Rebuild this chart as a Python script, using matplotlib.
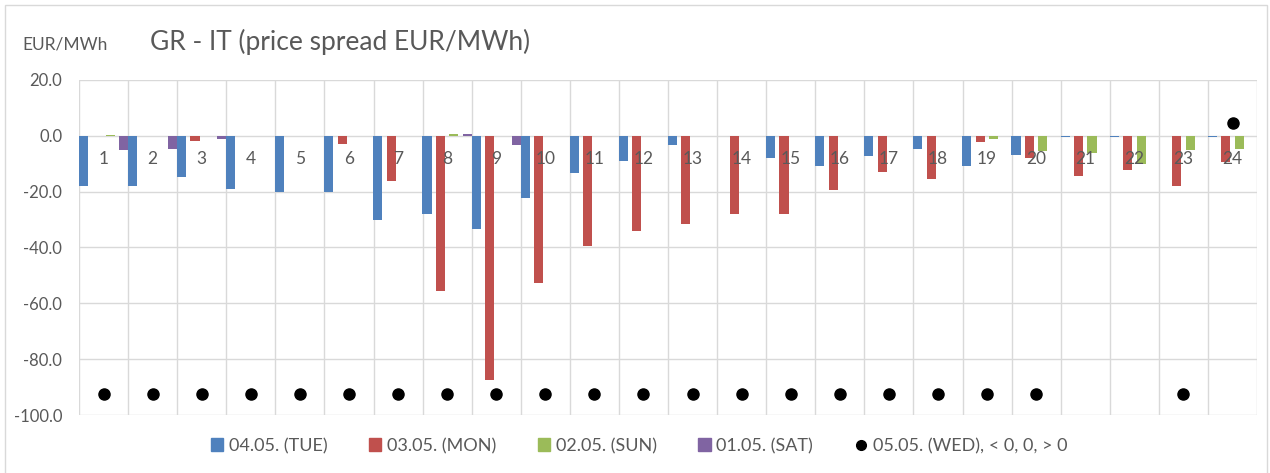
import numpy as np
import matplotlib
matplotlib.use('Agg')
import matplotlib.pyplot as plt
from matplotlib.patches import Rectangle
from matplotlib.lines import Line2D

plt.rcParams['font.family'] = ['Lato', 'DejaVu Sans']

hours = list(range(1, 25))

# price spread per hour (EUR/MWh)
tue_0405 = [-17.8, -17.8, -14.6, -19.0, -20.2, -20.2, -30.1, -27.9, -33.5, -22.4,
            -13.4, -8.9, -3.4, 0.0, -7.8, -10.7, -7.3, -4.6, -10.7, -6.7,
            -0.3, -0.3, 0.0, -0.3]
mon_0305 = [0.0, 0.0, -1.8, 0.0, 0.0, -2.9, -16.2, -55.6, -87.3, -52.8,
            -39.6, -34.0, -31.7, -27.9, -27.9, -19.5, -12.8, -15.6, -2.2, -7.8,
            -14.5, -12.3, -18.0, -9.5]
sun_0205 = [0.2, 0.0, 0.0, 0.0, 0.0, 0.0, 0.0, 0.5, 0.0, 0.0,
            0.0, 0.0, 0.0, 0.0, 0.0, 0.0, 0.0, 0.0, -1.1, -5.3,
            -6.2, -10.2, -5.2, -4.6]
sat_0105 = [-5.1, -4.6, -1.2, 0.0, 0.0, 0.0, 0.0, 0.5, -3.4, 0.0,
            0.0, 0.0, 0.0, 0.0, 0.0, 0.0, 0.0, 0.0, 0.0, 0.0,
            0.0, 0.0, 0.0, 0.0]
# sign marker for 05.05.: -92.5 means < 0, 4.5 means > 0, nan means none
wed_0505 = [-92.5] * 20 + [np.nan, np.nan, -92.5, 4.5]

series = [
    (tue_0405, '04.05. (TUE)', '#4F81BD'),
    (mon_0305, '03.05. (MON)', '#C0504D'),
    (sun_0205, '02.05. (SUN)', '#9BBB59'),
    (sat_0105, '01.05. (SAT)', '#8064A2'),
]

txt = '#595959'
grid = '#D9D9D9'

fig = plt.figure(figsize=(12.7, 4.73), dpi=100)
ax = fig.add_axes([0.0622, 0.1226, 0.9276, 0.7083])

x = np.array(hours)
offsets = [-0.41, -0.137, 0.137, 0.41]
handles = []
for (vals, lab, col), off in zip(series, offsets):
    ax.bar(x + off, vals, width=0.185, color=col, zorder=3)
    handles.append(Rectangle((0, 0), 1, 1, color=col, label=lab))

ax.plot(x, wed_0505, 'o', color='black', markersize=8, zorder=4)
handles.append(Line2D([], [], marker='o', color='black', linestyle='none',
                      markersize=7, label='05.05. (WED), < 0, 0, > 0'))

# hour labels just below the zero line
for h in hours:
    ax.text(h, -8.4, str(h), ha='center', va='center', fontsize=12.5, color=txt, zorder=5)

ax.set_xlim(0.5, 24.5)
ax.set_ylim(-100, 20)
ax.set_yticks(np.arange(-100, 21, 20))
ax.set_yticklabels(['%.1f' % v for v in np.arange(-100, 21, 20)])
ax.set_xticks(np.arange(0.5, 25, 1))
ax.set_xticklabels([])
ax.tick_params(length=0, labelsize=12, labelcolor=txt)
ax.tick_params(axis='y', pad=12)
ax.grid(True, color=grid, linewidth=1.0, zorder=0)
ax.set_axisbelow(True)
for s in ax.spines.values():
    s.set_visible(False)

fig.text(150 / 1270, 1 - 42 / 473, 'GR - IT (price spread EUR/MWh)', fontsize=19,
         color=txt, va='center', ha='left')
fig.text(22 / 1270, 1 - 45 / 473, 'EUR/MWh', fontsize=12.5, color=txt,
         va='center', ha='left')

fig.legend(handles=handles, loc='center', bbox_to_anchor=(0.503, 1 - 446 / 473),
           ncol=5, frameon=False, fontsize=13, labelcolor=txt,
           handlelength=0.7, handleheight=0.7, handletextpad=0.3, columnspacing=2.3)

# chart area border
fig.patches.append(Rectangle((4.5 / 1270, -0.01), 1262 / 1270, 1 - 5.5 / 473 + 0.01,
                             transform=fig.transFigure, fill=False, edgecolor=grid,
                             linewidth=1.0))

fig.savefig('out.png', dpi=100)
